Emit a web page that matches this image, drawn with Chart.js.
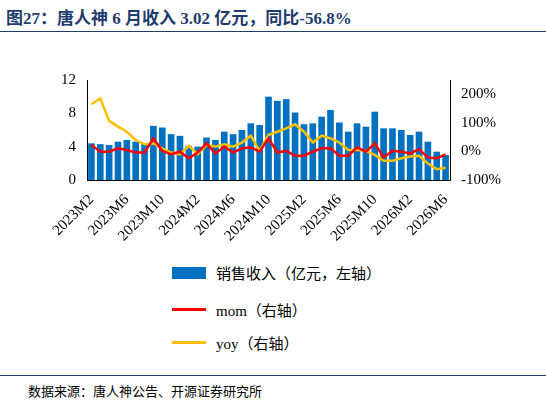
<!DOCTYPE html>
<html><head><meta charset="utf-8">
<script src="https://cdn.jsdelivr.net/npm/chart.js@4"></script>
<style>
body{margin:0;width:546px;height:405px;background:#fff;font-family:"Times New Roman","Liberation Serif","Noto Sans CJK SC",serif;position:relative;overflow:hidden}
#title{position:absolute;left:6px;top:4px;font-size:17px;font-weight:bold;color:#1f3c6e;font-family:"Liberation Serif","Noto Sans CJK SC",serif}
#tl{position:absolute;left:0;top:31px;width:546px;border-top:1.5px solid #1f3c6e}
#wrap{position:absolute;left:0;top:68px;width:546px;height:180px}
.lg{position:absolute;left:172px;font-size:15px;color:#000;display:flex;align-items:center}
.sw{display:inline-block;margin-right:10px}
#src{position:absolute;left:28px;top:381px;font-size:13px;font-family:"Noto Sans CJK SC",sans-serif}
#bl{position:absolute;left:0;top:375px;width:546px;border-top:1px solid #1f3c6e}
</style></head><body>
<div id="title">图27：唐人神 6 月收入 3.02 亿元，同比-56.8%</div>
<div id="tl"></div>
<div id="wrap"><canvas id="c"></canvas></div>
<div class="lg" style="top:262px"><span class="sw" style="width:34px;height:12px;background:#0070c0"></span>销售收入（亿元，左轴）</div>
<div class="lg" style="top:299px"><span class="sw" style="width:34px;height:3px;background:#ff0000"></span>mom（右轴）</div>
<div class="lg" style="top:332px"><span class="sw" style="width:34px;height:3px;background:#ffc000"></span>yoy（右轴）</div>
<div id="bl"></div>
<div id="src">数据来源：唐人神公告、开源证券研究所</div>
<script>
const months = [];
for (let y = 2023; y <= 2026; y++) for (let m = 1; m <= 12; m++) {
  if ((y === 2023 && m < 2) || (y === 2026 && m > 6)) continue;
  months.push(y + 'M' + m);
}
const revenue = [4.4,4.3,4.2,4.6,4.8,4.6,4.4,6.5,6.3,5.5,5.3,4.1,4.0,5.1,4.8,5.8,5.5,6.0,6.8,6.6,10.0,9.5,9.7,8.1,6.7,6.8,7.6,8.4,6.9,5.8,6.8,6.4,8.2,6.2,6.2,6.0,5.4,5.8,4.6,3.4,3.0];
const mom = [23,-1,-1,11,5,-4,-4,46,2,-10,-1,-24,-4,28,-7,17,-4,11,14,-1,46,-4,2,-15,-15,-1,11,11,-15,-15,14,-1,28,-21,2,-1,-7,8,-21,-24,-10];
const yoy = [165,186,107,87,69,40,25,28,11,-4,-10,20,-10,22,17,25,17,31,55,2,58,69,81,95,69,31,55,46,31,5,5,2,-12,-33,-33,-24,-18,-15,-42,-62,-57];

const font = {family: '"Times New Roman","Liberation Serif",serif', size: 15};
new Chart(document.getElementById('c'), {
  data: {
    labels: months,
    datasets: [
      {type: 'line', data: mom, yAxisID: 'y2', borderColor: '#ff0000', borderWidth: 2.5, pointRadius: 0, tension: 0},
      {type: 'line', data: yoy, yAxisID: 'y2', borderColor: '#ffc000', borderWidth: 2.5, pointRadius: 0, tension: 0},
      {type: 'bar', data: revenue, yAxisID: 'y', backgroundColor: '#0070c0', categoryPercentage: 0.75, barPercentage: 1}
    ]
  },
  options: {
    responsive: true, maintainAspectRatio: false, animation: false,
    layout: {padding: {left: 58, right: 42, top: 0}},
    plugins: {legend: {display: false}, tooltip: {enabled: false}},
    scales: {
      x: {
        grid: {display: false}, border: {color: '#000'},
        ticks: {font: font, color: '#000', maxRotation: 45, minRotation: 45, autoSkip: false,
          callback: (v, i) => i % 4 === 0 ? months[i] : ''}
      },
      y: {
        min: 0, max: 12, grid: {display: false}, border: {color: '#000'},
        ticks: {stepSize: 2, font: font, color: '#000'}
      },
      y2: {
        position: 'right', min: -100, max: 250, grid: {display: false}, border: {color: '#000'},
        ticks: {stepSize: 50, font: font, color: '#000', callback: v => v + '%'}
      }
    }
  }
});
</script>
</body></html>
